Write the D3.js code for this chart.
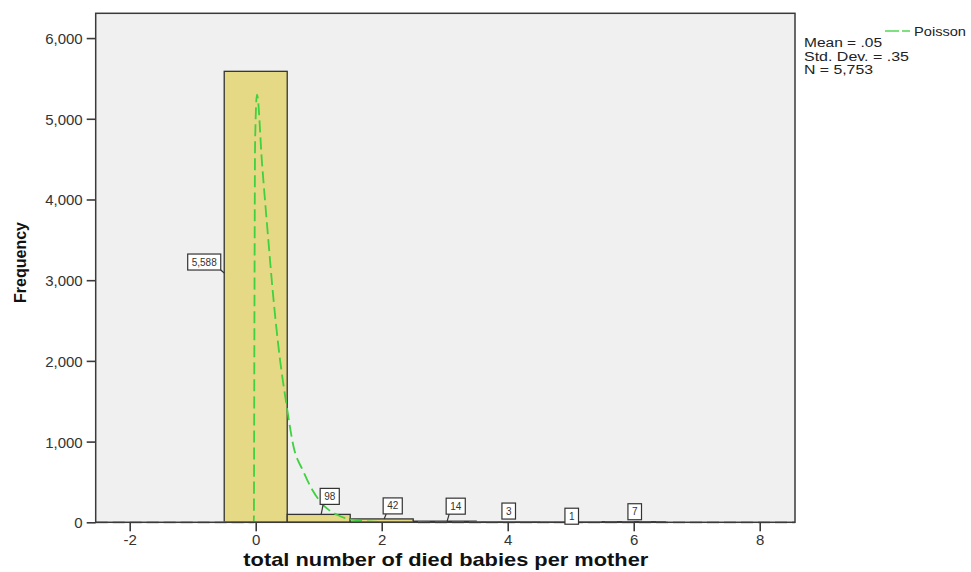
<!DOCTYPE html>
<html>
<head>
<meta charset="utf-8">
<script src="https://cdn.jsdelivr.net/npm/d3@7"></script>
<style>
  html, body { margin: 0; padding: 0; background: #fff; }
  svg { display: block; font-family: "Liberation Sans", Arial, sans-serif; }
</style>
</head>
<body>
<div id="chart"></div>
<script>
// Histogram data: number of died babies per mother
var deaths = [0, 1, 2, 3, 4, 5, 6];
var counts = [5588, 98, 42, 14, 3, 1, 7];
var countLabels = ['5,588', '98', '42', '14', '3', '1', '7'];

// Fitted Poisson curve
var poissonX = [-2.54, -0.03, -0.02, -0.01, 0.02, 0.1, 0.2, 0.28, 0.38, 0.49, 0.6, 0.75, 0.9, 1.0, 1.15, 1.3, 1.55, 2.0, 3.0, 8.56];
var poissonY = [0, 0, 2700, 4700, 5300, 4450, 3500, 2780, 2050, 1450, 940, 640, 400, 280, 160, 90, 30, 5, 0, 0];

var xTicks = [-2, 0, 2, 4, 6, 8];
var yTicks = [0, 1000, 2000, 3000, 4000, 5000, 6000];
var statLines = ['Mean = .05', 'Std. Dev. = .35', 'N = 5,753'];

var histChart = {

  /* ---
   * Chart configuration values
   */
  config: {
    width:      971,
    height:     572,
    plotLeft:   95.7,
    plotRight:  795,
    plotTop:    13.3,
    plotBottom: 522.3,
    xDomain:    [-2.54, 8.56],
    yDomain:    [0, 6307],
    plotFill:   '#f0f0f0',
    frameColor: '#3a3a3a',
    barFill:    '#e5d986',
    barStroke:  '#333',
    curveColor: '#3fd13f',
    // label box centre offset from bar top centre, px
    labelOffsets: [[-51.5, 190.7], [11, -18], [11, -13], [11, -15], [1, -11], [1, -6], [1, -10]]
  },

  display: function(el) {
    this.svg = d3.select(el).append('svg')
                 .attr('width', this.config.width)
                 .attr('height', this.config.height);

    this.x = d3.scaleLinear().domain(this.config.xDomain)
               .range([this.config.plotLeft, this.config.plotRight]);
    this.y = d3.scaleLinear().domain(this.config.yDomain)
               .range([this.config.plotBottom, this.config.plotTop]);

    this.createFrame();
    this.createBars();
    this.createCurve();
    this.createAxes();
    this.createLabels();
    this.createLegend();
  },

  createFrame: function() {
    var c = this.config;
    this.svg.append('rect')
        .attr('x', c.plotLeft).attr('y', c.plotTop)
        .attr('width', c.plotRight - c.plotLeft)
        .attr('height', c.plotBottom - c.plotTop)
        .attr('fill', c.plotFill);
  },

  createBars: function() {
    this.svg.append('g').selectAll('rect').data(deaths).enter().append('rect')
        .attr('x',      (d) => this.x(d - 0.5))
        .attr('width',  (d) => this.x(d + 0.5) - this.x(d - 0.5))
        .attr('y',      (d, i) => this.y(counts[i]))
        .attr('height', (d, i) => this.y(0) - this.y(counts[i]))
        .attr('fill',   this.config.barFill)
        .attr('stroke', this.config.barStroke)
        .attr('stroke-width', 1.3);
  },

  createCurve: function() {
    var line = d3.line()
                 .x((d) => this.x(d))
                 .y((d, i) => this.y(poissonY[i]))
                 .curve(d3.curveMonotoneX);
    this.svg.append('path')
        .attr('d', line(poissonX))
        .attr('fill', 'none')
        .attr('stroke', this.config.curveColor)
        .attr('stroke-width', 1.8)
        .attr('stroke-dasharray', '12,5');
  },

  createAxes: function() {
    var c = this.config;

    // frame on top of the bars
    this.svg.append('rect')
        .attr('x', c.plotLeft).attr('y', c.plotTop)
        .attr('width', c.plotRight - c.plotLeft)
        .attr('height', c.plotBottom - c.plotTop)
        .attr('fill', 'none')
        .attr('stroke', c.frameColor)
        .attr('stroke-width', 1.5);

    var yAxis = d3.axisLeft(this.y).tickValues(yTicks)
                  .tickFormat(d3.format(',')).tickSize(9).tickPadding(4);
    var gy = this.svg.append('g')
        .attr('transform', 'translate(' + c.plotLeft + ',0)')
        .call(yAxis);

    // plain hyphen for negatives, as in the original
    var xAxis = d3.axisBottom(this.x).tickValues(xTicks)
                  .tickFormat((d) => String(d)).tickSize(9).tickPadding(3);
    var gx = this.svg.append('g')
        .attr('transform', 'translate(0,' + c.plotBottom + ')')
        .call(xAxis);

    [gx, gy].forEach(function(g) {
      g.select('.domain').remove();
      g.selectAll('.tick line').attr('stroke', c.frameColor).attr('stroke-width', 1.6);
      g.selectAll('.tick text')
       .attr('fill', '#333')
       .style('font-size', '15px')
       .style('font-family', '"Liberation Sans", Arial, sans-serif');
    });
    gy.selectAll('.tick text').attr('dy', '0.36em');

    // axis titles
    this.svg.append('text')
        .attr('x', (c.plotLeft + c.plotRight) / 2 - 202)
        .attr('y', 566)
        .attr('textLength', 405)
        .attr('lengthAdjust', 'spacingAndGlyphs')
        .style('font-size', '19px')
        .style('font-weight', 'bold')
        .attr('fill', '#111')
        .text('total number of died babies per mother');

    this.svg.append('text')
        .attr('transform', 'translate(25.5,262.5) rotate(-90)')
        .attr('text-anchor', 'middle')
        .style('font-size', '16px')
        .style('font-weight', 'bold')
        .attr('fill', '#111')
        .text('Frequency');
  },

  createLabels: function() {
    var self = this;
    var g = this.svg.append('g');
    deaths.forEach(function(d, i) {
      var off = self.config.labelOffsets[i];
      var bx = self.x(d), by = self.y(counts[i]);
      var cx = bx + off[0], cy = by + off[1];

      var t = g.append('text')
          .attr('x', cx).attr('y', cy)
          .attr('text-anchor', 'middle')
          .attr('dy', '0.35em')
          .style('font-size', '10px')
          .attr('fill', '#333')
          .text(countLabels[i]);
      var w = t.node().getComputedTextLength() + 8;
      var h = 16;

      g.insert('rect', 'text')
          .attr('x', cx - w / 2).attr('y', cy - h / 2)
          .attr('width', w).attr('height', h)
          .attr('fill', '#fff')
          .attr('stroke', '#333')
          .attr('stroke-width', 1.2);

      // leader line from box to bar
      if (i === 0) {
        g.append('line')
            .attr('x1', cx + w / 2).attr('y1', cy + h / 2)
            .attr('x2', self.x(d - 0.5)).attr('y2', cy + h / 2 + 3)
            .attr('stroke', '#333').attr('stroke-width', 1.2);
      } else if (off[1] < -12) {
        g.append('line')
            .attr('x1', cx - w / 2 + 3).attr('y1', cy + h / 2)
            .attr('x2', cx - w / 2 + 1).attr('y2', by)
            .attr('stroke', '#333').attr('stroke-width', 1.2);
      }
    });
  },

  createLegend: function() {
    var g = this.svg.append('g');
    g.append('line')
        .attr('x1', 885).attr('x2', 910)
        .attr('y1', 31).attr('y2', 31)
        .attr('stroke', '#7fe07f')
        .attr('stroke-width', 2)
        .attr('stroke-dasharray', '14,3');
    g.append('text')
        .attr('x', 914).attr('y', 36)
        .attr('textLength', 52)
        .attr('lengthAdjust', 'spacingAndGlyphs')
        .style('font-size', '13px')
        .attr('fill', '#222')
        .text('Poisson');

    var widths = [78, 105, 69];
    var baselines = [47, 60.5, 74];
    g.selectAll('text.stat').data(statLines).enter().append('text')
        .attr('class', 'stat')
        .attr('x', 804)
        .attr('y', (d, i) => baselines[i])
        .attr('textLength', (d, i) => widths[i])
        .attr('lengthAdjust', 'spacingAndGlyphs')
        .style('font-size', '12.5px')
        .attr('fill', '#222')
        .text((d) => d);
  }

};

histChart.display(document.getElementById('chart'));
</script>
</body>
</html>
